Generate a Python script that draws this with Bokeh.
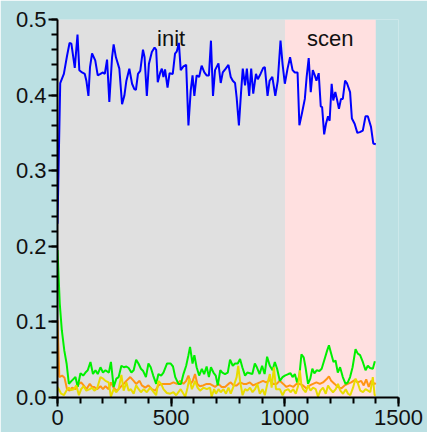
from bokeh.plotting import figure
from bokeh.models import (Range1d, SingleIntervalTicker, NumeralTickFormatter,
                          Legend, LegendItem)
from bokeh.core.properties import value
from bokeh.embed import file_html
from bokeh.resources import INLINE

# ---- data ----
phase_names = ["init", "scen"]
phase_start = [0, 1000]
phase_end = [1000, 1400]
phase_colors = ["#e0e0e0", "#ffe0e0"]

blue_x = [0, 12, 28, 42, 53, 61, 76, 88, 96, 108, 120, 127, 136, 143, 152, 166, 177, 189, 200, 208,
          218, 228, 240, 247, 257, 272, 284, 294, 303, 316, 328, 338, 345, 354, 364, 376, 383, 393, 402, 415,
          427, 434, 441, 452, 459, 466, 473, 484, 493, 507, 517, 525, 534, 542, 554, 566, 576, 586, 594, 602,
          612, 623, 634, 646, 656, 666, 675, 684, 693, 708, 718, 727, 740, 752, 762, 771, 781, 788, 798, 807,
          815, 825, 833, 843, 852, 861, 873, 881, 893, 905, 912, 924, 933, 945, 958, 969, 981, 990, 1000, 1012,
          1023, 1034, 1044, 1056, 1064, 1076, 1088, 1096, 1105, 1114, 1123, 1132, 1139, 1149, 1158, 1164, 1173, 1181, 1190, 1197,
          1206, 1213, 1222, 1229, 1238, 1247, 1255, 1265, 1273, 1287, 1295, 1307, 1319, 1330, 1343, 1355, 1365, 1379, 1389, 1400]
blue_y = [0.230, 0.416, 0.428, 0.452, 0.469, 0.468, 0.436, 0.480, 0.433, 0.430, 0.428, 0.419, 0.399, 0.437, 0.455, 0.446, 0.426, 0.428, 0.430, 0.428,
          0.447, 0.391, 0.450, 0.467, 0.450, 0.435, 0.388, 0.399, 0.419, 0.435, 0.415, 0.408, 0.407, 0.428, 0.432, 0.460, 0.450, 0.399, 0.441, 0.457,
          0.463, 0.460, 0.417, 0.430, 0.435, 0.424, 0.434, 0.410, 0.429, 0.428, 0.455, 0.458, 0.469, 0.433, 0.438, 0.440, 0.360, 0.406, 0.426, 0.399,
          0.426, 0.424, 0.439, 0.430, 0.426, 0.426, 0.472, 0.399, 0.433, 0.442, 0.416, 0.430, 0.435, 0.440, 0.424, 0.419, 0.416, 0.397, 0.360, 0.402,
          0.435, 0.413, 0.435, 0.399, 0.435, 0.402, 0.428, 0.421, 0.428, 0.436, 0.437, 0.399, 0.419, 0.424, 0.399, 0.419, 0.472, 0.441, 0.415, 0.435,
          0.450, 0.433, 0.430, 0.430, 0.360, 0.377, 0.395, 0.424, 0.449, 0.404, 0.433, 0.426, 0.419, 0.429, 0.385, 0.384, 0.348, 0.362, 0.372, 0.366,
          0.415, 0.393, 0.404, 0.395, 0.382, 0.395, 0.395, 0.419, 0.416, 0.404, 0.369, 0.362, 0.350, 0.351, 0.353, 0.372, 0.372, 0.358, 0.336, 0.335]

orange_x = [0, 8, 20, 31, 42, 53, 64, 79, 94, 104, 115, 127, 142, 152, 160, 174, 189, 200, 211, 225,
            235, 247, 259, 269, 281, 291, 303, 320, 335, 346, 361, 371, 386, 400, 415, 430, 444, 459, 466, 481,
            496, 510, 525, 540, 554, 566, 576, 586, 595, 605, 615, 626, 641, 656, 670, 682, 693, 708, 722, 737,
            752, 762, 774, 788, 803, 818, 832, 846, 861, 875, 890, 904, 918, 934, 949, 963, 978, 993, 1007, 1022,
            1037, 1051, 1066, 1080, 1095, 1110, 1124, 1139, 1154, 1168, 1183, 1194, 1204, 1219, 1233, 1248, 1263, 1277, 1292, 1307,
            1321, 1336, 1347, 1358, 1369, 1380, 1395, 1400]
orange_y = [0.102, 0.027, 0.029, 0.026, 0.011, 0.009, 0.013, 0.011, 0.018, 0.020, 0.016, 0.011, 0.018, 0.014, 0.014, 0.011, 0.015, 0.011, 0.015, 0.011,
            0.020, 0.013, 0.009, 0.011, 0.015, 0.018, 0.022, 0.027, 0.022, 0.018, 0.022, 0.016, 0.013, 0.016, 0.011, 0.009, 0.016, 0.018, 0.018, 0.018,
            0.018, 0.020, 0.018, 0.022, 0.018, 0.022, 0.029, 0.018, 0.022, 0.031, 0.018, 0.015, 0.016, 0.018, 0.018, 0.016, 0.014, 0.018, 0.014, 0.014,
            0.018, 0.020, 0.016, 0.016, 0.020, 0.018, 0.018, 0.020, 0.016, 0.018, 0.020, 0.022, 0.020, 0.023, 0.018, 0.018, 0.022, 0.018, 0.014, 0.016,
            0.014, 0.018, 0.018, 0.016, 0.012, 0.016, 0.018, 0.020, 0.018, 0.020, 0.024, 0.028, 0.022, 0.018, 0.014, 0.012, 0.016, 0.018, 0.020, 0.023,
            0.020, 0.022, 0.016, 0.024, 0.014, 0.022, 0.018, 0.019]

green_x = [0, 10, 19, 30, 40, 50, 62, 79, 89, 101, 113, 123, 133, 145, 156, 167, 177, 189, 200, 211,
           226, 235, 247, 259, 269, 281, 292, 303, 313, 325, 335, 346, 356, 367, 377, 389, 400, 410, 421, 434,
           444, 456, 466, 482, 497, 508, 518, 532, 543, 554, 566, 576, 583, 594, 602, 612, 623, 635, 645, 656,
           666, 675, 686, 696, 705, 716, 725, 737, 749, 759, 771, 781, 793, 803, 813, 825, 835, 846, 857, 868,
           877, 889, 900, 911, 922, 934, 946, 956, 966, 978, 990, 1000, 1015, 1025, 1034, 1044, 1054, 1064, 1073, 1083,
           1091, 1102, 1112, 1121, 1130, 1140, 1152, 1162, 1175, 1186, 1194, 1204, 1214, 1223, 1233, 1243, 1255, 1267, 1277, 1287,
           1298, 1311, 1321, 1331, 1343, 1355, 1365, 1375, 1387, 1396]
green_y = [0.195, 0.124, 0.089, 0.062, 0.045, 0.018, 0.022, 0.027, 0.014, 0.032, 0.029, 0.033, 0.036, 0.047, 0.031, 0.036, 0.031, 0.040, 0.033, 0.036,
           0.033, 0.047, 0.014, 0.025, 0.027, 0.042, 0.040, 0.041, 0.039, 0.033, 0.036, 0.050, 0.045, 0.038, 0.035, 0.027, 0.045, 0.040, 0.029, 0.018,
           0.031, 0.029, 0.033, 0.045, 0.045, 0.041, 0.027, 0.018, 0.018, 0.031, 0.042, 0.056, 0.067, 0.045, 0.056, 0.040, 0.029, 0.038, 0.031, 0.041,
           0.027, 0.040, 0.033, 0.029, 0.016, 0.036, 0.033, 0.031, 0.033, 0.050, 0.042, 0.045, 0.045, 0.051, 0.040, 0.029, 0.033, 0.032, 0.031, 0.045,
           0.040, 0.031, 0.042, 0.031, 0.054, 0.042, 0.036, 0.047, 0.038, 0.022, 0.027, 0.029, 0.031, 0.032, 0.027, 0.031, 0.020, 0.029, 0.057, 0.053,
           0.040, 0.018, 0.025, 0.038, 0.032, 0.036, 0.035, 0.038, 0.051, 0.062, 0.069, 0.058, 0.047, 0.049, 0.033, 0.040, 0.027, 0.018, 0.020, 0.027,
           0.040, 0.064, 0.058, 0.056, 0.047, 0.036, 0.042, 0.039, 0.038, 0.048]

yellow_x = [0, 6, 16, 28, 39, 50, 60, 72, 83, 94, 104, 115, 127, 142, 152, 162, 174, 189, 200, 211,
            225, 235, 247, 259, 269, 281, 291, 303, 313, 323, 335, 346, 357, 367, 379, 393, 408, 423, 434, 444,
            456, 466, 481, 496, 510, 522, 532, 542, 554, 562, 572, 580, 591, 598, 605, 616, 627, 642, 657, 671,
            678, 689, 697, 708, 718, 730, 741, 752, 762, 776, 788, 795, 803, 814, 825, 835, 847, 858, 869, 879,
            890, 902, 912, 923, 934, 942, 952, 961, 978, 990, 1000, 1015, 1025, 1037, 1048, 1059, 1066, 1073, 1080, 1092,
            1102, 1113, 1124, 1136, 1146, 1156, 1168, 1180, 1190, 1200, 1212, 1224, 1234, 1244, 1256, 1268, 1278, 1288, 1300, 1311,
            1322, 1332, 1344, 1355, 1366, 1376, 1387, 1395, 1400]
yellow_y = [0.014, 0.011, 0.005, 0.003, 0.009, 0.013, 0.010, 0.011, 0.016, 0.003, 0.011, 0.015, 0.009, 0.011, 0.013, 0.009, 0.012, 0.027, 0.025, 0.022,
            0.020, 0.001, 0.011, 0.007, 0.011, 0.030, 0.009, 0.020, 0.009, 0.011, 0.005, 0.016, 0.011, 0.007, 0.011, 0.007, 0.013, 0.007, 0.003, 0.022,
            0.018, 0.011, 0.006, 0.005, 0.007, 0.003, 0.007, 0.011, 0.005, 0.001, 0.013, 0.025, 0.011, 0.016, 0.022, 0.013, 0.009, 0.013, 0.011, 0.013,
            0.001, 0.011, 0.005, 0.011, 0.007, 0.011, 0.005, 0.013, 0.005, 0.016, 0.027, 0.042, 0.022, 0.003, 0.011, 0.009, 0.013, 0.007, 0.011, 0.018,
            0.005, 0.011, 0.003, 0.018, 0.031, 0.013, 0.040, 0.011, 0.011, 0.003, 0.009, 0.011, 0.007, 0.011, 0.005, 0.016, 0.036, 0.016, 0.011, 0.007,
            0.016, 0.009, 0.013, 0.011, 0.001, 0.009, 0.013, 0.005, 0.016, 0.011, 0.007, 0.011, 0.018, 0.009, 0.005, 0.011, 0.005, 0.003, 0.013, 0.025,
            0.018, 0.009, 0.007, 0.011, 0.009, 0.007, 0.027, 0.003, 0.003]

# legend labels are cut off at the window edge in the reference: none is readable
series_labels = [" ", " ", " ", " "]
x_ticks_major = 500
y_ticks_major = 0.1

# ---- styling ----
BG = "#bbe0e3"
FONT = "Liberation Sans"

p = figure(frame_width=341, frame_height=378, output_backend="svg", toolbar_location=None,
           x_range=Range1d(0, 1500), y_range=Range1d(0, 0.5),
           min_border_left=57, min_border_right=29, min_border_top=19, min_border_bottom=35)
p.background_fill_color = BG
p.border_fill_color = BG
p.outline_line_color = None
p.xgrid.visible = False
p.ygrid.visible = False

p.quad(left=phase_start, right=phase_end, bottom=0, top=0.5, fill_color=phase_colors, line_color=None)
p.text(x=[(a + b) / 2 for a, b in zip(phase_start, phase_end)], y=[0.5, 0.5], text=phase_names,
       text_align="center", text_baseline="top", y_offset=6,
       text_font=value(FONT), text_font_size="22px", text_color="#111111")

r_b = p.line(blue_x, blue_y, line_color="#0000ff", line_width=2)
r_o = p.line(orange_x, orange_y, line_color="#ff9414", line_width=2)
r_g = p.line(green_x, green_y, line_color="#00f000", line_width=2)
r_y = p.line(yellow_x, yellow_y, line_color="#e8dc00", line_width=2)

for ax, tick in ((p.xaxis[0], SingleIntervalTicker(interval=x_ticks_major, num_minor_ticks=5)),
                 (p.yaxis[0], SingleIntervalTicker(interval=y_ticks_major, num_minor_ticks=5))):
    ax.ticker = tick
    ax.axis_line_width = 2
    ax.axis_line_color = "black"
    ax.major_tick_line_width = 2
    ax.minor_tick_line_width = 2
    ax.major_tick_line_color = "black"
    ax.minor_tick_line_color = "black"
    ax.major_tick_out = 9
    ax.major_tick_in = 0
    ax.minor_tick_out = 6
    ax.minor_tick_in = 0
    ax.major_label_text_font = FONT
    ax.major_label_text_font_size = "22px"
    ax.major_label_text_color = "#111111"

p.yaxis[0].formatter = NumeralTickFormatter(format="0.0")
p.yaxis[0].major_label_standoff = 2
p.xaxis[0].major_label_standoff = 3

legend = Legend(items=[LegendItem(label=n, renderers=[r]) for n, r in zip(series_labels, [r_b, r_o, r_g, r_y])],
                location=(367, 128), orientation="vertical",
                glyph_height=26, label_height=26, glyph_width=20, spacing=0, padding=0, margin=0,
                label_text_font=FONT, label_text_font_size="18px",
                background_fill_alpha=0, border_line_color=None)
p.add_layout(legend, "center")

html = file_html(p, INLINE)
html = html.replace("<body>", '<body style="margin:0;background-color:%s;overflow:hidden">' % BG, 1)
open("out.html", "w").write(html)
